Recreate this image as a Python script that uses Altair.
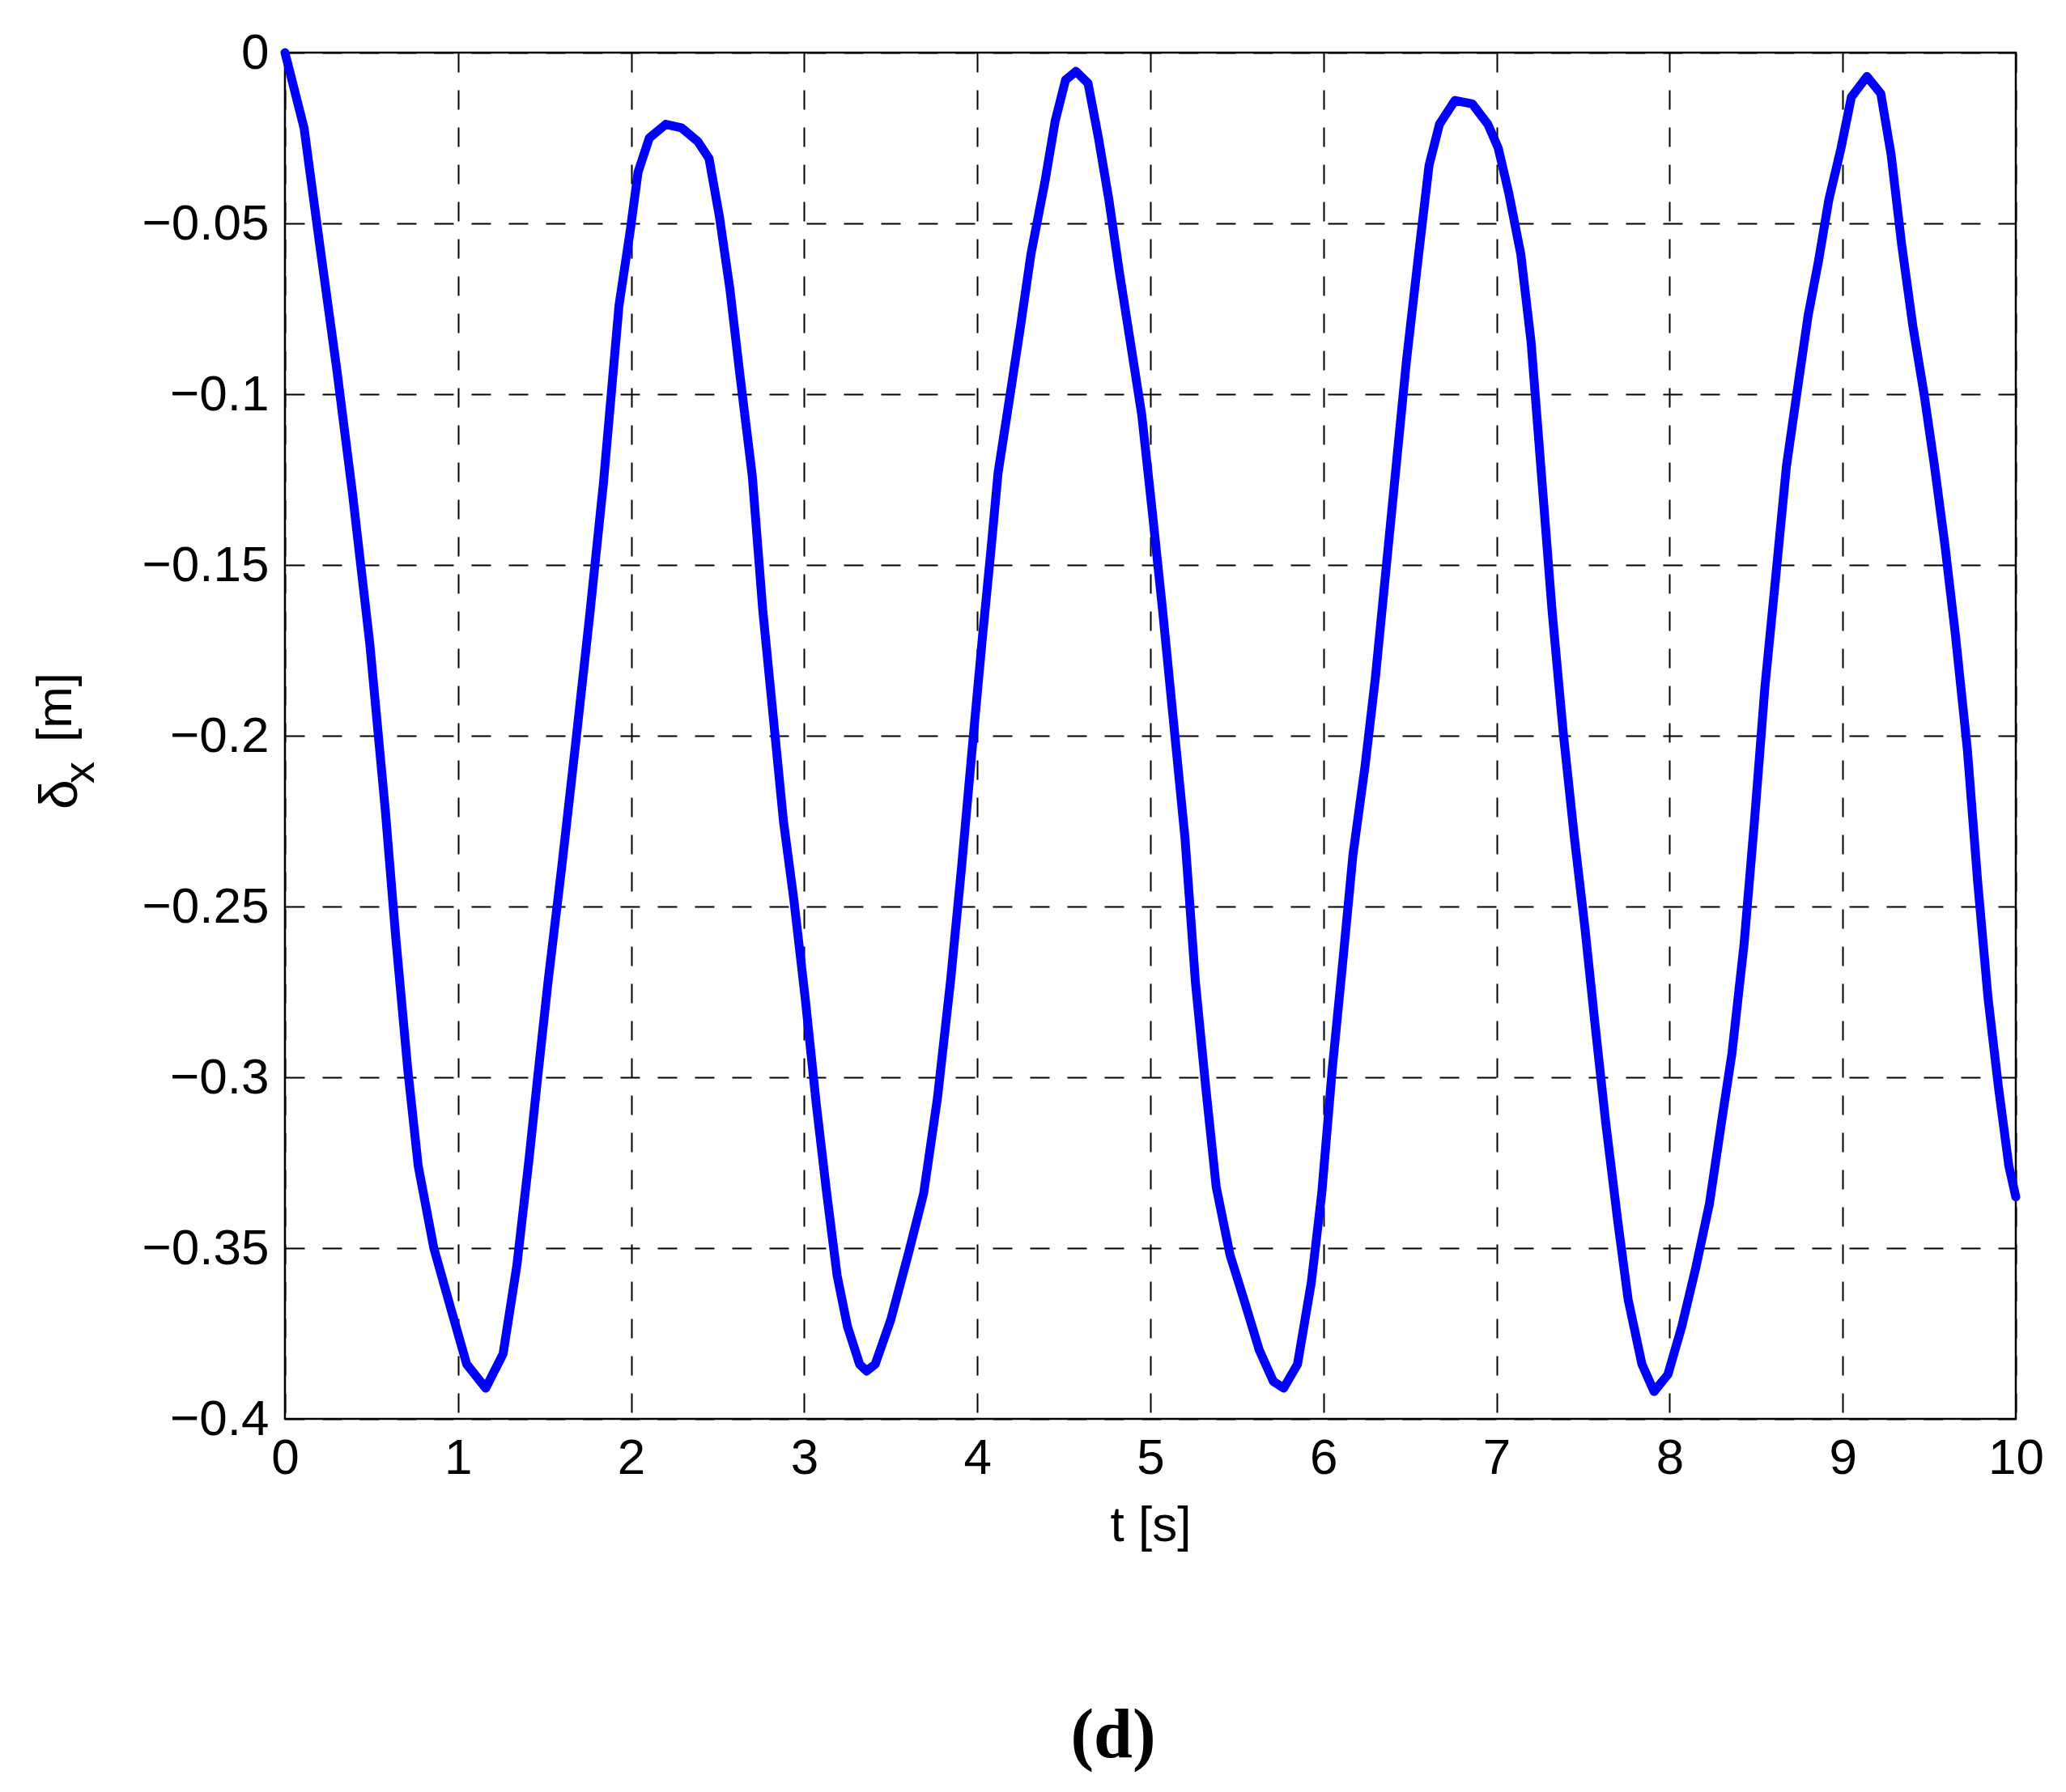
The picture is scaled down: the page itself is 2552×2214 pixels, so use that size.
import altair as alt
import pandas as pd

# time [s]
t_vals = [0.0, 0.11, 0.2, 0.3, 0.39, 0.49, 0.58, 0.64, 0.71, 0.77, 0.86, 0.96, 1.05, 1.16,
          1.26, 1.34, 1.41, 1.46, 1.52, 1.60, 1.68, 1.76, 1.84, 1.885, 1.93, 1.995, 2.04,
          2.105, 2.2, 2.29, 2.385, 2.45, 2.51, 2.57, 2.63, 2.70, 2.76, 2.82, 2.88, 2.94,
          3.006, 3.07, 3.13, 3.19, 3.25, 3.32, 3.36, 3.41, 3.50, 3.60, 3.69, 3.77, 3.845,
          3.91, 3.97, 4.03, 4.08, 4.12, 4.19, 4.25, 4.31, 4.39, 4.45, 4.51, 4.57, 4.64,
          4.70, 4.76, 4.82, 4.885, 4.95, 5.01, 5.07, 5.13, 5.20, 5.26, 5.32, 5.38, 5.46,
          5.54, 5.63, 5.71, 5.77, 5.85, 5.93, 5.99, 6.05, 6.11, 6.17, 6.24, 6.30, 6.36,
          6.42, 6.48, 6.55, 6.61, 6.67, 6.76, 6.86, 6.95, 7.01, 7.07, 7.14, 7.20, 7.26,
          7.32, 7.385, 7.45, 7.51, 7.57, 7.63, 7.70, 7.76, 7.84, 7.91, 7.99, 8.07, 8.15,
          8.23, 8.30, 8.36, 8.43, 8.49, 8.55, 8.61, 8.675, 8.74, 8.80, 8.86, 8.92, 8.99,
          9.05, 9.14, 9.22, 9.28, 9.34, 9.405, 9.47, 9.53, 9.59, 9.65, 9.72, 9.78, 9.84,
          9.90, 9.96, 10.0]
# displacement delta_x [m]
dx_vals = [0.0, -0.022, -0.056, -0.093, -0.129, -0.173, -0.222, -0.259, -0.298, -0.326,
           -0.350, -0.368, -0.384, -0.391, -0.381, -0.355, -0.324, -0.300, -0.272, -0.238,
           -0.202, -0.165, -0.126, -0.100, -0.074, -0.052, -0.035, -0.025, -0.021, -0.022,
           -0.026, -0.031, -0.048, -0.069, -0.095, -0.124, -0.163, -0.194, -0.225, -0.248,
           -0.277, -0.308, -0.334, -0.358, -0.373, -0.384, -0.386, -0.384, -0.371, -0.352,
           -0.334, -0.306, -0.272, -0.238, -0.204, -0.171, -0.145, -0.123, -0.100, -0.080,
           -0.059, -0.038, -0.020, -0.008, -0.0055, -0.009, -0.025, -0.043, -0.064, -0.085,
           -0.106, -0.134, -0.163, -0.194, -0.230, -0.272, -0.303, -0.332, -0.352, -0.365,
           -0.380, -0.389, -0.391, -0.384, -0.360, -0.334, -0.298, -0.267, -0.235, -0.209,
           -0.183, -0.152, -0.121, -0.090, -0.059, -0.033, -0.021, -0.014, -0.015, -0.021,
           -0.028, -0.041, -0.059, -0.085, -0.124, -0.163, -0.199, -0.230, -0.256, -0.285,
           -0.313, -0.342, -0.365, -0.384, -0.392, -0.387, -0.373, -0.356, -0.337, -0.313,
           -0.293, -0.261, -0.225, -0.186, -0.155, -0.121, -0.098, -0.077, -0.061, -0.043,
           -0.028, -0.013, -0.007, -0.012, -0.030, -0.056, -0.080, -0.100, -0.121, -0.144,
           -0.170, -0.204, -0.243, -0.277, -0.303, -0.326, -0.335]

x_ticks = [0, 1, 2, 3, 4, 5, 6, 7, 8, 9, 10]
y_ticks = [0, -0.05, -0.1, -0.15, -0.2, -0.25, -0.3, -0.35, -0.4]
panel_label = ["(d)"]
y_title_parts = ["δ", "x", "[m]"]

df = pd.DataFrame({"t": t_vals, "dx": dx_vals})

W, H = 2138, 1688
FONT = "Liberation Sans, Arial, DejaVu Sans"

grid_kw = dict(ticks=False, domain=False, grid=True, gridColor="black",
               gridDash=[24, 22], gridWidth=2, gridOpacity=1, labelFlush=False,
               labelFont=FONT, labelFontSize=62, labelColor="black")

line = alt.Chart(df).mark_line(
    color="#0000FF", strokeWidth=11, strokeJoin="round", strokeCap="round"
).encode(
    x=alt.X("t:Q", scale=alt.Scale(domain=[0, 10], nice=False, zero=False),
            axis=alt.Axis(values=x_ticks, format="d", title="t [s]",
                          labelPadding=18, titleFont=FONT, titleFontSize=62,
                          titleFontWeight="normal", titleColor="black", titlePadding=22,
                          **grid_kw)),
    y=alt.Y("dx:Q", scale=alt.Scale(domain=[-0.4, 0], nice=False, zero=False),
            axis=alt.Axis(values=y_ticks, format="~g", title=None,
                          labelPadding=20, **grid_kw)),
)

def ytext(txt, size, xpos, ypos):
    return alt.Chart(pd.DataFrame({"lab": [txt]})).mark_text(
        font=FONT, fontSize=size, color="black", align="left",
        baseline="alphabetic", angle=270
    ).encode(text="lab:N", x=alt.value(xpos), y=alt.value(ypos))

ytitle = alt.layer(
    ytext(y_title_parts[0], 66, -257, 935),
    ytext(y_title_parts[1], 54, -236, 903),
    ytext(y_title_parts[2], 62, -264, 852),
)

label = alt.Chart(pd.DataFrame({"lab": panel_label})).mark_text(
    font="Liberation Serif, Times New Roman, serif", fontSize=86, fontWeight="bold",
    color="black", align="center", baseline="middle"
).encode(
    text="lab:N",
    x=alt.value(1023),
    y=alt.value(2080),
)

chart = alt.layer(line, ytitle, label).properties(
    width=W, height=H,
    autosize=alt.AutoSizeParams(type="none"),
    padding={"left": 344, "top": 57, "right": 54, "bottom": 453},
    background="white",
).configure_view(stroke="black", strokeWidth=2.5)

chart.save("out.html", embed_options={"renderer": "svg", "actions": False})
